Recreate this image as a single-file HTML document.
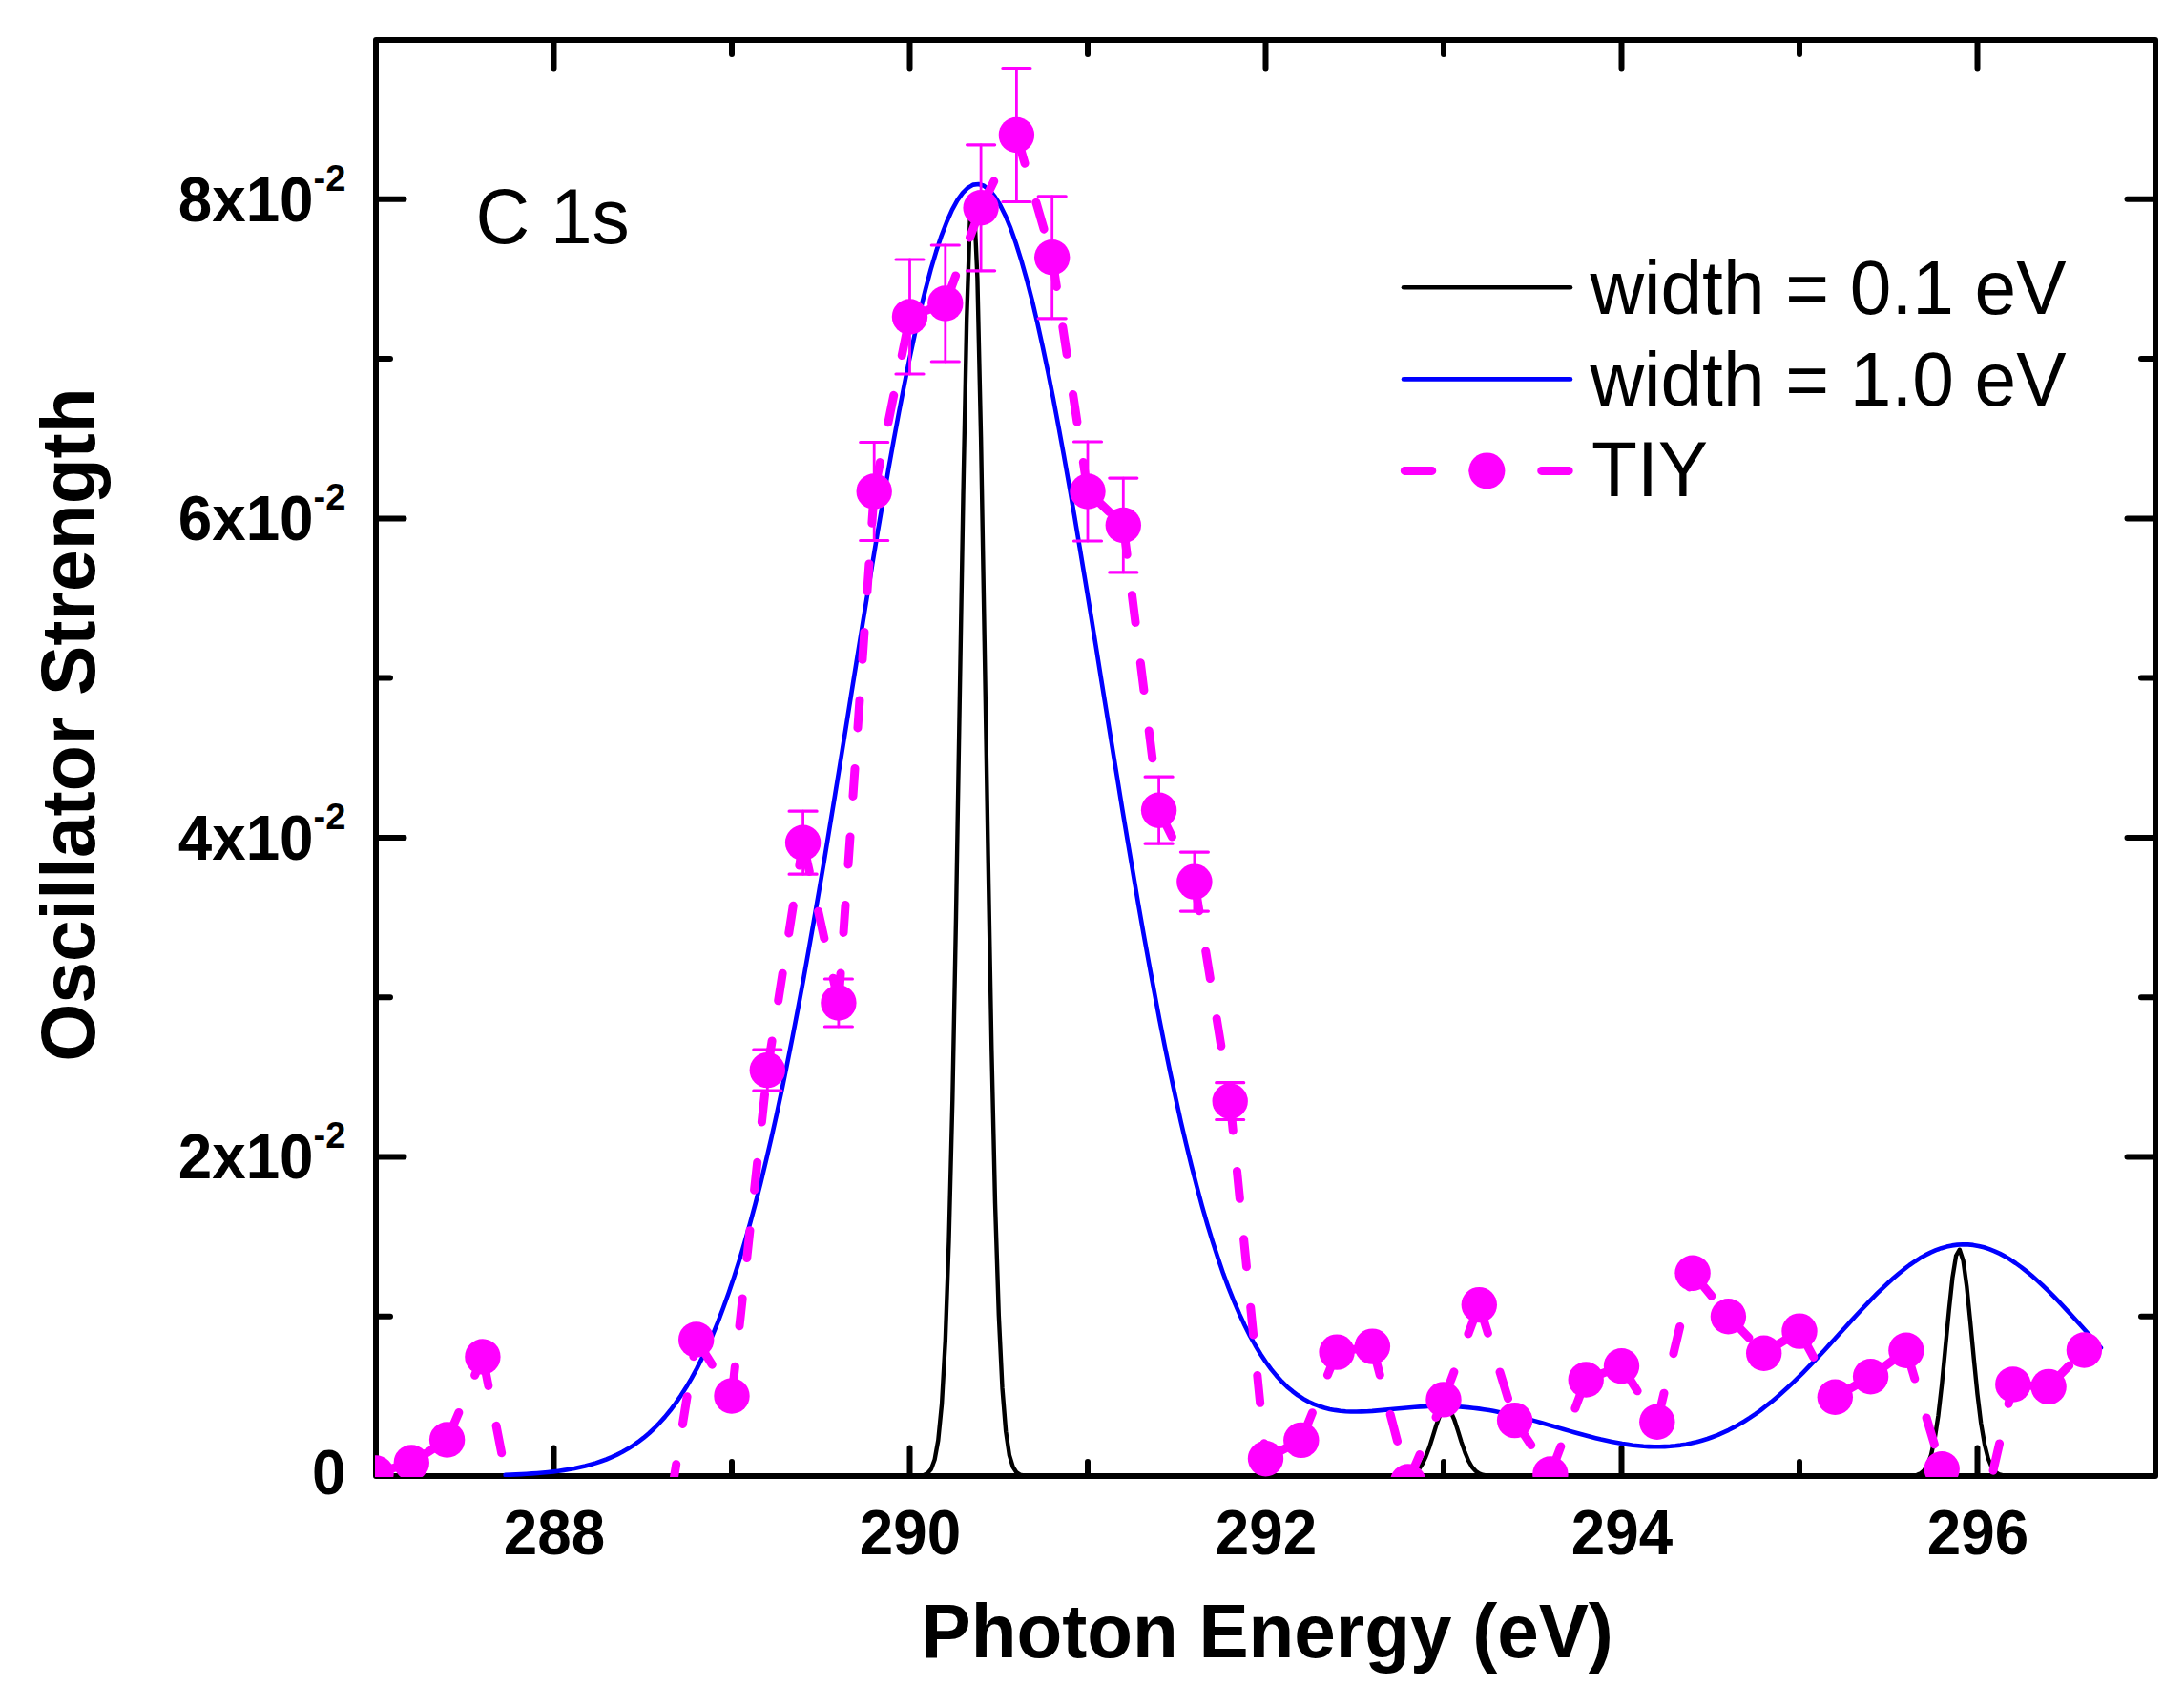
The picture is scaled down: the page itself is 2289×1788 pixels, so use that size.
<!DOCTYPE html><html><head><meta charset="utf-8"><title>C 1s Oscillator Strength</title>
<style>html,body{margin:0;padding:0;background:#fff}svg{display:block}text{font-family:"Liberation Sans",Arial,sans-serif;fill:#000}</style></head><body>
<svg width="2289" height="1788" viewBox="0 0 2289 1788">
<rect width="2289" height="1788" fill="#fff"/>
<defs><clipPath id="c"><rect x="393" y="40" width="1867" height="1508"/></clipPath></defs>
<rect x="394.0" y="42.0" width="1865.0" height="1505.0" fill="none" stroke="#000" stroke-width="6" stroke-linejoin="round"/>
<path d="M580.5 1547.0V1517.5M580.5 42.0V71.5M767.0 1547.0V1532.0M767.0 42.0V57.0M953.5 1547.0V1517.5M953.5 42.0V71.5M1140.0 1547.0V1532.0M1140.0 42.0V57.0M1326.5 1547.0V1517.5M1326.5 42.0V71.5M1513.0 1547.0V1532.0M1513.0 42.0V57.0M1699.5 1547.0V1517.5M1699.5 42.0V71.5M1886.0 1547.0V1532.0M1886.0 42.0V57.0M2072.5 1547.0V1517.5M2072.5 42.0V71.5M394.0 1379.7H409.0M2259.0 1379.7H2244.0M394.0 1212.5H423.5M2259.0 1212.5H2229.5M394.0 1045.2H409.0M2259.0 1045.2H2244.0M394.0 877.9H423.5M2259.0 877.9H2229.5M394.0 710.6H409.0M2259.0 710.6H2244.0M394.0 543.4H423.5M2259.0 543.4H2229.5M394.0 376.1H409.0M2259.0 376.1H2244.0M394.0 208.8H423.5M2259.0 208.8H2229.5" fill="none" stroke="#000" stroke-width="6" stroke-linecap="round"/>
<g clip-path="url(#c)" fill="none" stroke-linejoin="round" stroke-linecap="round">
<polyline points="524.5,1547.0 528.3,1547.0 532.0,1547.0 535.7,1547.0 539.5,1547.0 543.2,1547.0 546.9,1547.0 550.7,1547.0 554.4,1547.0 558.1,1547.0 561.8,1547.0 565.6,1547.0 569.3,1547.0 573.0,1547.0 576.8,1547.0 580.5,1547.0 584.2,1547.0 588.0,1547.0 591.7,1547.0 595.4,1547.0 599.1,1547.0 602.9,1547.0 606.6,1547.0 610.3,1547.0 614.1,1547.0 617.8,1547.0 621.5,1547.0 625.3,1547.0 629.0,1547.0 632.7,1547.0 636.5,1547.0 640.2,1547.0 643.9,1547.0 647.6,1547.0 651.4,1547.0 655.1,1547.0 658.8,1547.0 662.6,1547.0 666.3,1547.0 670.0,1547.0 673.8,1547.0 677.5,1547.0 681.2,1547.0 684.9,1547.0 688.7,1547.0 692.4,1547.0 696.1,1547.0 699.9,1547.0 703.6,1547.0 707.3,1547.0 711.0,1547.0 714.8,1547.0 718.5,1547.0 722.2,1547.0 726.0,1547.0 729.7,1547.0 733.4,1547.0 737.2,1547.0 740.9,1547.0 744.6,1547.0 748.3,1547.0 752.1,1547.0 755.8,1547.0 759.5,1547.0 763.3,1547.0 767.0,1547.0 770.7,1547.0 774.5,1547.0 778.2,1547.0 781.9,1547.0 785.6,1547.0 789.4,1547.0 793.1,1547.0 796.8,1547.0 800.6,1547.0 804.3,1547.0 808.0,1547.0 811.8,1547.0 815.5,1547.0 819.2,1547.0 823.0,1547.0 826.7,1547.0 830.4,1547.0 834.1,1547.0 837.9,1547.0 841.6,1547.0 845.3,1547.0 849.1,1547.0 852.8,1547.0 856.5,1547.0 860.2,1547.0 864.0,1547.0 867.7,1547.0 871.4,1547.0 875.2,1547.0 878.9,1547.0 882.6,1547.0 886.4,1547.0 890.1,1547.0 893.8,1547.0 897.5,1547.0 901.3,1547.0 905.0,1547.0 908.7,1547.0 912.5,1547.0 916.2,1547.0 919.9,1547.0 923.7,1547.0 927.4,1547.0 931.1,1547.0 934.8,1547.0 938.6,1547.0 942.3,1547.0 946.0,1547.0 949.8,1547.0 953.5,1547.0 957.2,1547.0 961.0,1546.9 964.7,1546.6 968.4,1546.0 972.1,1544.1 975.9,1539.7 979.6,1529.8 983.3,1509.5 987.1,1471.2 990.8,1405.1 994.5,1301.1 998.3,1152.4 1002.0,960.6 1005.7,740.2 1009.5,519.1 1013.2,334.3 1016.9,222.2 1020.6,206.8 1024.4,291.6 1028.1,458.1 1031.8,672.4 1035.6,896.5 1039.3,1099.0 1043.0,1261.3 1046.8,1378.3 1050.5,1454.7 1054.2,1500.3 1057.9,1525.1 1061.7,1537.5 1065.4,1543.2 1069.1,1545.6 1072.9,1546.5 1076.6,1546.8 1080.3,1547.0 1084.0,1547.0 1087.8,1547.0 1091.5,1547.0 1095.2,1547.0 1099.0,1547.0 1102.7,1547.0 1106.4,1547.0 1110.2,1547.0 1113.9,1547.0 1117.6,1547.0 1121.3,1547.0 1125.1,1547.0 1128.8,1547.0 1132.5,1547.0 1136.3,1547.0 1140.0,1547.0 1143.7,1547.0 1147.5,1547.0 1151.2,1547.0 1154.9,1547.0 1158.6,1547.0 1162.4,1547.0 1166.1,1547.0 1169.8,1547.0 1173.6,1547.0 1177.3,1547.0 1181.0,1547.0 1184.8,1547.0 1188.5,1547.0 1192.2,1547.0 1196.0,1547.0 1199.7,1547.0 1203.4,1547.0 1207.1,1547.0 1210.9,1547.0 1214.6,1547.0 1218.3,1547.0 1222.1,1547.0 1225.8,1547.0 1229.5,1547.0 1233.2,1547.0 1237.0,1547.0 1240.7,1547.0 1244.4,1547.0 1248.2,1547.0 1251.9,1547.0 1255.6,1547.0 1259.4,1547.0 1263.1,1547.0 1266.8,1547.0 1270.5,1547.0 1274.3,1547.0 1278.0,1547.0 1281.7,1547.0 1285.5,1547.0 1289.2,1547.0 1292.9,1547.0 1296.7,1547.0 1300.4,1547.0 1304.1,1547.0 1307.8,1547.0 1311.6,1547.0 1315.3,1547.0 1319.0,1547.0 1322.8,1547.0 1326.5,1547.0 1330.2,1547.0 1334.0,1547.0 1337.7,1547.0 1341.4,1547.0 1345.1,1547.0 1348.9,1547.0 1352.6,1547.0 1356.3,1547.0 1360.1,1547.0 1363.8,1547.0 1367.5,1547.0 1371.3,1547.0 1375.0,1547.0 1378.7,1547.0 1382.5,1547.0 1386.2,1547.0 1389.9,1547.0 1393.6,1547.0 1397.4,1547.0 1401.1,1547.0 1404.8,1547.0 1408.6,1547.0 1412.3,1547.0 1416.0,1547.0 1419.8,1547.0 1423.5,1547.0 1427.2,1547.0 1430.9,1547.0 1434.7,1547.0 1438.4,1547.0 1442.1,1547.0 1445.9,1547.0 1449.6,1547.0 1453.3,1547.0 1457.0,1547.0 1460.8,1547.0 1464.5,1546.9 1468.2,1546.9 1472.0,1546.6 1475.7,1546.2 1479.4,1545.1 1483.2,1543.2 1486.9,1539.9 1490.6,1534.5 1494.3,1526.8 1498.1,1516.8 1501.8,1505.1 1505.5,1493.2 1509.3,1483.1 1513.0,1476.6 1516.7,1475.2 1520.5,1479.3 1524.2,1487.8 1527.9,1499.1 1531.6,1511.1 1535.4,1522.1 1539.1,1531.0 1542.8,1537.5 1546.6,1541.7 1550.3,1544.3 1554.0,1545.7 1557.8,1546.4 1561.5,1546.8 1565.2,1546.9 1569.0,1547.0 1572.7,1547.0 1576.4,1547.0 1580.1,1547.0 1583.9,1547.0 1587.6,1547.0 1591.3,1547.0 1595.1,1547.0 1598.8,1547.0 1602.5,1547.0 1606.2,1547.0 1610.0,1547.0 1613.7,1547.0 1617.4,1547.0 1621.2,1547.0 1624.9,1547.0 1628.6,1547.0 1632.4,1547.0 1636.1,1547.0 1639.8,1547.0 1643.5,1547.0 1647.3,1547.0 1651.0,1547.0 1654.7,1547.0 1658.5,1547.0 1662.2,1547.0 1665.9,1547.0 1669.7,1547.0 1673.4,1547.0 1677.1,1547.0 1680.8,1547.0 1684.6,1547.0 1688.3,1547.0 1692.0,1547.0 1695.8,1547.0 1699.5,1547.0 1703.2,1547.0 1707.0,1547.0 1710.7,1547.0 1714.4,1547.0 1718.1,1547.0 1721.9,1547.0 1725.6,1547.0 1729.3,1547.0 1733.1,1547.0 1736.8,1547.0 1740.5,1547.0 1744.3,1547.0 1748.0,1547.0 1751.7,1547.0 1755.5,1547.0 1759.2,1547.0 1762.9,1547.0 1766.6,1547.0 1770.4,1547.0 1774.1,1547.0 1777.8,1547.0 1781.6,1547.0 1785.3,1547.0 1789.0,1547.0 1792.8,1547.0 1796.5,1547.0 1800.2,1547.0 1803.9,1547.0 1807.7,1547.0 1811.4,1547.0 1815.1,1547.0 1818.9,1547.0 1822.6,1547.0 1826.3,1547.0 1830.0,1547.0 1833.8,1547.0 1837.5,1547.0 1841.2,1547.0 1845.0,1547.0 1848.7,1547.0 1852.4,1547.0 1856.2,1547.0 1859.9,1547.0 1863.6,1547.0 1867.3,1547.0 1871.1,1547.0 1874.8,1547.0 1878.5,1547.0 1882.3,1547.0 1886.0,1547.0 1889.7,1547.0 1893.5,1547.0 1897.2,1547.0 1900.9,1547.0 1904.6,1547.0 1908.4,1547.0 1912.1,1547.0 1915.8,1547.0 1919.6,1547.0 1923.3,1547.0 1927.0,1547.0 1930.8,1547.0 1934.5,1547.0 1938.2,1547.0 1942.0,1547.0 1945.7,1547.0 1949.4,1547.0 1953.1,1547.0 1956.9,1547.0 1960.6,1547.0 1964.3,1547.0 1968.1,1547.0 1971.8,1547.0 1975.5,1547.0 1979.2,1547.0 1983.0,1547.0 1986.7,1547.0 1990.4,1547.0 1994.2,1547.0 1997.9,1547.0 2001.6,1546.9 2005.4,1546.6 2009.1,1545.9 2012.8,1544.4 2016.5,1541.3 2020.3,1535.3 2024.0,1524.8 2027.7,1507.9 2031.5,1483.3 2035.2,1450.9 2038.9,1412.7 2042.7,1373.2 2046.4,1338.8 2050.1,1316.0 2053.8,1309.7 2057.6,1321.3 2061.3,1348.2 2065.0,1384.8 2068.8,1424.5 2072.5,1461.3 2076.2,1491.5 2080.0,1513.7 2083.7,1528.5 2087.4,1537.5 2091.1,1542.5 2094.9,1545.0 2098.6,1546.2 2102.3,1546.7 2106.1,1546.9 2109.8,1547.0 2113.5,1547.0 2117.3,1547.0 2121.0,1547.0 2124.7,1547.0 2128.5,1547.0 2132.2,1547.0 2135.9,1547.0 2139.6,1547.0 2143.4,1547.0 2147.1,1547.0 2150.8,1547.0 2154.6,1547.0 2158.3,1547.0 2162.0,1547.0 2165.8,1547.0 2169.5,1547.0 2173.2,1547.0 2176.9,1547.0 2180.7,1547.0 2184.4,1547.0 2188.1,1547.0 2191.9,1547.0 2195.6,1547.0 2199.3,1547.0 2203.0,1547.0" stroke="#000" stroke-width="4.4"/>
<polyline points="529.6,1545.8 535.2,1545.6 540.7,1545.4 546.3,1545.1 551.9,1544.8 557.5,1544.4 563.0,1544.0 568.6,1543.5 574.2,1543.0 579.8,1542.4 585.3,1541.7 590.9,1540.9 596.5,1540.0 602.1,1539.0 607.6,1537.8 613.2,1536.5 618.8,1535.0 624.4,1533.4 629.9,1531.5 635.5,1529.5 641.1,1527.2 646.6,1524.6 652.2,1521.7 657.8,1518.6 663.4,1515.1 668.9,1511.2 674.5,1506.9 680.1,1502.2 685.7,1497.0 691.2,1491.3 696.8,1485.1 702.4,1478.3 708.0,1470.9 713.5,1462.8 719.1,1454.1 724.7,1444.6 730.3,1434.4 735.8,1423.4 741.4,1411.5 747.0,1398.8 752.6,1385.1 758.1,1370.5 763.7,1355.0 769.3,1338.5 774.9,1320.9 780.4,1302.3 786.0,1282.6 791.6,1261.9 797.2,1240.1 802.7,1217.2 808.3,1193.2 813.9,1168.2 819.5,1142.1 825.0,1115.0 830.6,1086.9 836.2,1057.8 841.8,1027.9 847.3,997.1 852.9,965.5 858.5,933.2 864.1,900.3 869.6,866.8 875.2,832.8 880.8,798.5 886.4,763.9 891.9,729.3 897.5,694.6 903.1,660.0 908.7,625.6 914.2,591.7 919.8,558.2 925.4,525.4 930.9,493.4 936.5,462.4 942.1,432.4 947.7,403.6 953.2,376.2 958.8,350.3 964.4,326.0 970.0,303.4 975.5,282.6 981.1,263.8 986.7,247.1 992.3,232.5 997.8,220.1 1003.4,209.9 1009.0,202.1 1014.6,196.7 1020.1,193.6 1025.7,193.0 1031.3,194.8 1036.9,199.0 1042.4,205.6 1048.0,214.5 1053.6,225.7 1059.2,239.2 1064.7,254.8 1070.3,272.6 1075.9,292.3 1081.5,313.9 1087.0,337.3 1092.6,362.4 1098.2,389.0 1103.8,417.1 1109.3,446.4 1114.9,476.9 1120.5,508.3 1126.1,540.7 1131.6,573.7 1137.2,607.4 1142.8,641.4 1148.4,675.8 1153.9,710.3 1159.5,744.9 1165.1,779.4 1170.7,813.7 1176.2,847.7 1181.8,881.2 1187.4,914.2 1192.9,946.6 1198.5,978.3 1204.1,1009.2 1209.7,1039.2 1215.2,1068.4 1220.8,1096.6 1226.4,1123.7 1232.0,1149.8 1237.5,1174.9 1243.1,1198.8 1248.7,1221.6 1254.3,1243.3 1259.8,1263.9 1265.4,1283.3 1271.0,1301.6 1276.6,1318.8 1282.1,1334.9 1287.7,1349.9 1293.3,1363.9 1298.9,1376.9 1304.4,1388.8 1310.0,1399.9 1315.6,1410.0 1321.2,1419.2 1326.7,1427.5 1332.3,1435.1 1337.9,1441.9 1343.5,1448.0 1349.0,1453.4 1354.6,1458.1 1360.2,1462.3 1365.8,1465.9 1371.3,1469.0 1376.9,1471.6 1382.5,1473.7 1388.1,1475.5 1393.6,1476.9 1399.2,1477.9 1404.8,1478.7 1410.4,1479.2 1415.9,1479.5 1421.5,1479.5 1427.1,1479.4 1432.7,1479.2 1438.2,1478.9 1443.8,1478.4 1449.4,1477.9 1455.0,1477.4 1460.5,1476.8 1466.1,1476.3 1471.7,1475.7 1477.2,1475.2 1482.8,1474.8 1488.4,1474.4 1494.0,1474.1 1499.5,1473.8 1505.1,1473.7 1510.7,1473.7 1516.3,1473.7 1521.8,1473.9 1527.4,1474.2 1533.0,1474.6 1538.6,1475.1 1544.1,1475.7 1549.7,1476.4 1555.3,1477.2 1560.9,1478.1 1566.4,1479.1 1572.0,1480.2 1577.6,1481.4 1583.2,1482.7 1588.7,1484.0 1594.3,1485.4 1599.9,1486.8 1605.5,1488.4 1611.0,1489.9 1616.6,1491.5 1622.2,1493.1 1627.8,1494.7 1633.3,1496.4 1638.9,1498.0 1644.5,1499.6 1650.1,1501.2 1655.6,1502.8 1661.2,1504.3 1666.8,1505.8 1672.4,1507.2 1677.9,1508.6 1683.5,1509.8 1689.1,1511.0 1694.7,1512.1 1700.2,1513.1 1705.8,1513.9 1711.4,1514.7 1717.0,1515.3 1722.5,1515.8 1728.1,1516.1 1733.7,1516.3 1739.2,1516.3 1744.8,1516.1 1750.4,1515.8 1756.0,1515.3 1761.5,1514.6 1767.1,1513.7 1772.7,1512.6 1778.3,1511.3 1783.8,1509.7 1789.4,1508.0 1795.0,1506.0 1800.6,1503.9 1806.1,1501.4 1811.7,1498.8 1817.3,1495.9 1822.9,1492.8 1828.4,1489.5 1834.0,1485.9 1839.6,1482.1 1845.2,1478.1 1850.7,1473.8 1856.3,1469.4 1861.9,1464.7 1867.5,1459.8 1873.0,1454.8 1878.6,1449.6 1884.2,1444.2 1889.8,1438.6 1895.3,1432.9 1900.9,1427.1 1906.5,1421.2 1912.1,1415.2 1917.6,1409.1 1923.2,1403.0 1928.8,1396.8 1934.4,1390.7 1939.9,1384.6 1945.5,1378.5 1951.1,1372.5 1956.7,1366.6 1962.2,1360.8 1967.8,1355.2 1973.4,1349.8 1979.0,1344.5 1984.5,1339.5 1990.1,1334.7 1995.7,1330.2 2001.2,1326.0 2006.8,1322.2 2012.4,1318.6 2018.0,1315.4 2023.5,1312.6 2029.1,1310.2 2034.7,1308.2 2040.3,1306.6 2045.8,1305.4 2051.4,1304.6 2057.0,1304.3 2062.6,1304.4 2068.1,1304.9 2073.7,1305.9 2079.3,1307.3 2084.9,1309.1 2090.4,1311.3 2096.0,1313.9 2101.6,1316.9 2107.2,1320.3 2112.7,1324.0 2118.3,1328.0 2123.9,1332.4 2129.5,1337.0 2135.0,1341.9 2140.6,1347.0 2146.2,1352.4 2151.8,1358.0 2157.3,1363.7 2162.9,1369.6 2168.5,1375.6 2174.1,1381.7 2179.6,1387.8 2185.2,1394.0 2190.8,1400.2 2196.4,1406.4 2201.9,1412.6" stroke="#0000ff" stroke-width="4.6"/>
<path d="M804.3 1100.0V1143.2M841.6 850.2V916.2M878.9 1026.0V1076.0M916.2 463.5V566.5M953.5 272.0V392.0M990.8 257.0V379.0M1028.1 151.8V283.8M1065.4 71.5V211.5M1102.7 205.8V333.8M1140.0 463.0V567.0M1177.3 501.1V599.9M1214.6 814.2V884.2M1251.9 893.1V955.1M1289.2 1134.7V1173.5" stroke="#ff00ff" stroke-width="2.8"/>
<path d="M789.8 1100.0h29M789.8 1143.2h29M827.1 850.2h29M827.1 916.2h29M864.4 1026.0h29M864.4 1076.0h29M901.7 463.5h29M901.7 566.5h29M939.0 272.0h29M939.0 392.0h29M976.3 257.0h29M976.3 379.0h29M1013.6 151.8h29M1013.6 283.8h29M1050.9 71.5h29M1050.9 211.5h29M1088.2 205.8h29M1088.2 333.8h29M1125.5 463.0h29M1125.5 567.0h29M1162.8 501.1h29M1162.8 599.9h29M1200.1 814.2h29M1200.1 884.2h29M1237.4 893.1h29M1237.4 955.1h29M1274.7 1134.7h29M1274.7 1173.5h29" stroke="#ff00ff" stroke-width="3.2"/>
<path d="M394.0 1544.0L431.3 1533.0M431.3 1533.0L468.6 1509.0M468.6 1509.0L505.9 1422.0M505.9 1422.0L543.2 1612.0M543.2 1612.0L580.5 1660.0M580.5 1660.0L617.8 1660.0M617.8 1660.0L655.1 1660.0M655.1 1660.0L692.4 1636.0M692.4 1636.0L729.7 1404.0M729.7 1404.0L767.0 1463.0M767.0 1463.0L804.3 1121.6M804.3 1121.6L841.6 883.2M841.6 883.2L878.9 1051.0M878.9 1051.0L916.2 515.0M916.2 515.0L953.5 332.0M953.5 332.0L990.8 318.0M990.8 318.0L1028.1 217.8M1028.1 217.8L1065.4 141.5M1065.4 141.5L1102.7 269.8M1102.7 269.8L1140.0 515.0M1140.0 515.0L1177.3 550.5M1177.3 550.5L1214.6 849.2M1214.6 849.2L1251.9 924.1M1251.9 924.1L1289.2 1154.1M1289.2 1154.1L1326.5 1528.7M1326.5 1528.7L1363.8 1509.4M1363.8 1509.4L1401.1 1417.1M1401.1 1417.1L1438.4 1411.1M1438.4 1411.1L1475.7 1553.0M1475.7 1553.0L1513.0 1466.9M1513.0 1466.9L1550.3 1367.6M1550.3 1367.6L1587.6 1488.6M1587.6 1488.6L1624.9 1545.0M1624.9 1545.0L1662.2 1446.0M1662.2 1446.0L1699.5 1431.7M1699.5 1431.7L1736.8 1490.3M1736.8 1490.3L1774.1 1334.2M1774.1 1334.2L1811.4 1379.8M1811.4 1379.8L1848.7 1418.2M1848.7 1418.2L1886.0 1395.1M1886.0 1395.1L1923.3 1464.3M1923.3 1464.3L1960.6 1442.7M1960.6 1442.7L1997.9 1415.3M1997.9 1415.3L2035.2 1539.7M2035.2 1539.7L2072.5 1613.0M2072.5 1613.0L2109.8 1451.0M2109.8 1451.0L2147.1 1453.4M2147.1 1453.4L2184.4 1415.0" stroke="#ff00ff" stroke-width="9" stroke-dasharray="29 42.7" stroke-dashoffset="-2"/>
<circle cx="394.0" cy="1544.0" r="18.7" fill="#ff00ff" stroke="none"/>
<circle cx="431.3" cy="1533.0" r="18.7" fill="#ff00ff" stroke="none"/>
<circle cx="468.6" cy="1509.0" r="18.7" fill="#ff00ff" stroke="none"/>
<circle cx="505.9" cy="1422.0" r="18.7" fill="#ff00ff" stroke="none"/>
<circle cx="543.2" cy="1612.0" r="18.7" fill="#ff00ff" stroke="none"/>
<circle cx="580.5" cy="1660.0" r="18.7" fill="#ff00ff" stroke="none"/>
<circle cx="617.8" cy="1660.0" r="18.7" fill="#ff00ff" stroke="none"/>
<circle cx="655.1" cy="1660.0" r="18.7" fill="#ff00ff" stroke="none"/>
<circle cx="692.4" cy="1636.0" r="18.7" fill="#ff00ff" stroke="none"/>
<circle cx="729.7" cy="1404.0" r="18.7" fill="#ff00ff" stroke="none"/>
<circle cx="767.0" cy="1463.0" r="18.7" fill="#ff00ff" stroke="none"/>
<circle cx="804.3" cy="1121.6" r="18.7" fill="#ff00ff" stroke="none"/>
<circle cx="841.6" cy="883.2" r="18.7" fill="#ff00ff" stroke="none"/>
<circle cx="878.9" cy="1051.0" r="18.7" fill="#ff00ff" stroke="none"/>
<circle cx="916.2" cy="515.0" r="18.7" fill="#ff00ff" stroke="none"/>
<circle cx="953.5" cy="332.0" r="18.7" fill="#ff00ff" stroke="none"/>
<circle cx="990.8" cy="318.0" r="18.7" fill="#ff00ff" stroke="none"/>
<circle cx="1028.1" cy="217.8" r="18.7" fill="#ff00ff" stroke="none"/>
<circle cx="1065.4" cy="141.5" r="18.7" fill="#ff00ff" stroke="none"/>
<circle cx="1102.7" cy="269.8" r="18.7" fill="#ff00ff" stroke="none"/>
<circle cx="1140.0" cy="515.0" r="18.7" fill="#ff00ff" stroke="none"/>
<circle cx="1177.3" cy="550.5" r="18.7" fill="#ff00ff" stroke="none"/>
<circle cx="1214.6" cy="849.2" r="18.7" fill="#ff00ff" stroke="none"/>
<circle cx="1251.9" cy="924.1" r="18.7" fill="#ff00ff" stroke="none"/>
<circle cx="1289.2" cy="1154.1" r="18.7" fill="#ff00ff" stroke="none"/>
<circle cx="1326.5" cy="1528.7" r="18.7" fill="#ff00ff" stroke="none"/>
<circle cx="1363.8" cy="1509.4" r="18.7" fill="#ff00ff" stroke="none"/>
<circle cx="1401.1" cy="1417.1" r="18.7" fill="#ff00ff" stroke="none"/>
<circle cx="1438.4" cy="1411.1" r="18.7" fill="#ff00ff" stroke="none"/>
<circle cx="1475.7" cy="1553.0" r="18.7" fill="#ff00ff" stroke="none"/>
<circle cx="1513.0" cy="1466.9" r="18.7" fill="#ff00ff" stroke="none"/>
<circle cx="1550.3" cy="1367.6" r="18.7" fill="#ff00ff" stroke="none"/>
<circle cx="1587.6" cy="1488.6" r="18.7" fill="#ff00ff" stroke="none"/>
<circle cx="1624.9" cy="1545.0" r="18.7" fill="#ff00ff" stroke="none"/>
<circle cx="1662.2" cy="1446.0" r="18.7" fill="#ff00ff" stroke="none"/>
<circle cx="1699.5" cy="1431.7" r="18.7" fill="#ff00ff" stroke="none"/>
<circle cx="1736.8" cy="1490.3" r="18.7" fill="#ff00ff" stroke="none"/>
<circle cx="1774.1" cy="1334.2" r="18.7" fill="#ff00ff" stroke="none"/>
<circle cx="1811.4" cy="1379.8" r="18.7" fill="#ff00ff" stroke="none"/>
<circle cx="1848.7" cy="1418.2" r="18.7" fill="#ff00ff" stroke="none"/>
<circle cx="1886.0" cy="1395.1" r="18.7" fill="#ff00ff" stroke="none"/>
<circle cx="1923.3" cy="1464.3" r="18.7" fill="#ff00ff" stroke="none"/>
<circle cx="1960.6" cy="1442.7" r="18.7" fill="#ff00ff" stroke="none"/>
<circle cx="1997.9" cy="1415.3" r="18.7" fill="#ff00ff" stroke="none"/>
<circle cx="2035.2" cy="1539.7" r="18.7" fill="#ff00ff" stroke="none"/>
<circle cx="2072.5" cy="1613.0" r="18.7" fill="#ff00ff" stroke="none"/>
<circle cx="2109.8" cy="1451.0" r="18.7" fill="#ff00ff" stroke="none"/>
<circle cx="2147.1" cy="1453.4" r="18.7" fill="#ff00ff" stroke="none"/>
<circle cx="2184.4" cy="1415.0" r="18.7" fill="#ff00ff" stroke="none"/>
</g>
<g fill="none" stroke-linecap="round">
<line x1="1471" y1="301.3" x2="1646" y2="301.3" stroke="#000" stroke-width="4.6"/>
<line x1="1471" y1="397.4" x2="1646" y2="397.4" stroke="#0000ff" stroke-width="4.6"/>
<line x1="1472.3" y1="493.4" x2="1645.5" y2="493.4" stroke="#ff00ff" stroke-width="9" stroke-dasharray="28.5 43.2"/>
</g><circle cx="1558.4" cy="493.4" r="19" fill="#ff00ff"/>
<g font-size="78.4">
<text transform="translate(1666.5 328.5) scale(1 1.02)">width = 0.1 eV</text>
<text transform="translate(1666.5 425) scale(1 1.02)">width = 1.0 eV</text>
<text transform="translate(1668 520) scale(1 1.04)">TIY</text>
<text transform="translate(498.5 254.8) scale(1 1.04)">C 1s</text>
</g>
<g font-size="63.7" font-weight="bold">
<text transform="translate(581.0 1629) scale(1 1.04)" text-anchor="middle">288</text>
<text transform="translate(954.0 1629) scale(1 1.04)" text-anchor="middle">290</text>
<text transform="translate(1327.0 1629) scale(1 1.04)" text-anchor="middle">292</text>
<text transform="translate(1700.0 1629) scale(1 1.04)" text-anchor="middle">294</text>
<text transform="translate(2073.0 1629) scale(1 1.04)" text-anchor="middle">296</text>
<text transform="translate(328.5 1235.4) scale(1 1.04)" text-anchor="end">2x10</text><text transform="translate(328.5 1203.4) scale(1 1.04)" font-size="38">-2</text>
<text transform="translate(328.5 900.8) scale(1 1.04)" text-anchor="end">4x10</text><text transform="translate(328.5 868.8) scale(1 1.04)" font-size="38">-2</text>
<text transform="translate(328.5 566.3) scale(1 1.04)" text-anchor="end">6x10</text><text transform="translate(328.5 534.3) scale(1 1.04)" font-size="38">-2</text>
<text transform="translate(328.5 231.7) scale(1 1.04)" text-anchor="end">8x10</text><text transform="translate(328.5 199.7) scale(1 1.04)" font-size="38">-2</text>
<text transform="translate(362.4 1566.3) scale(1 1.04)" text-anchor="end">0</text>
</g>
<g font-size="78.2" font-weight="bold">
<text transform="translate(965.5 1736.5) scale(1 1.02)">Photon Energy (eV)</text>
<text transform="translate(99 1112.8) rotate(-90) scale(1 1.01)" font-size="78.5">Oscillator Strength</text>
</g>
</svg></body></html>
